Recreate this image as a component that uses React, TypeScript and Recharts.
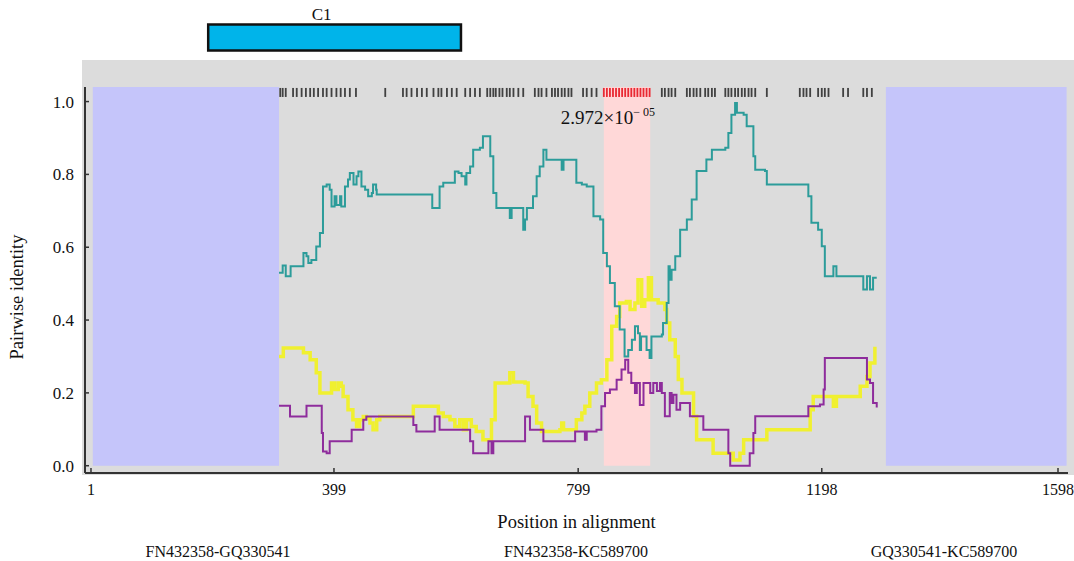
import React from "react";
import {
  ComposedChart,
  Line,
  Scatter,
  XAxis,
  YAxis,
  ReferenceArea,
  Legend,
} from "recharts";

// pairwise identity traces: [position in alignment, identity]
const tealLine: [number, number][] = [
  [309, 0.53], [315, 0.55], [320, 0.52], [328, 0.548], [346, 0.548], [349, 0.584], [354, 0.575],
  [357, 0.557], [362, 0.565], [370, 0.602], [376, 0.639], [381, 0.767], [387, 0.772], [392, 0.758],
  [395, 0.712], [400, 0.74], [403, 0.716], [409, 0.74], [411, 0.712], [417, 0.767], [422, 0.786],
  [425, 0.804], [431, 0.772], [436, 0.795], [439, 0.808], [444, 0.767], [450, 0.758], [455, 0.74],
  [461, 0.749], [463, 0.772], [468, 0.758], [469, 0.745], [559, 0.745], [560, 0.708], [569, 0.708],
  [572, 0.767], [578, 0.777], [591, 0.777], [597, 0.808], [603, 0.804], [608, 0.795], [614, 0.772],
  [616, 0.804], [622, 0.822], [627, 0.868], [638, 0.873], [643, 0.905], [652, 0.905], [655, 0.85],
  [660, 0.749], [665, 0.708], [684, 0.708], [687, 0.68], [690, 0.708], [706, 0.708], [709, 0.648],
  [712, 0.676], [715, 0.708], [725, 0.74], [731, 0.795], [736, 0.822], [742, 0.868], [747, 0.84],
  [769, 0.84], [772, 0.813], [775, 0.84], [788, 0.84], [796, 0.777], [805, 0.772], [813, 0.767],
  [824, 0.685], [835, 0.676], [840, 0.584], [846, 0.548], [851, 0.502], [859, 0.438], [867, 0.374],
  [875, 0.3], [881, 0.318], [887, 0.346], [892, 0.383], [897, 0.364], [900, 0.318], [902, 0.355],
  [911, 0.318], [916, 0.296], [919, 0.355], [936, 0.36], [938, 0.392], [944, 0.447], [947, 0.548],
  [949, 0.511], [952, 0.538], [958, 0.575], [966, 0.648], [977, 0.676], [985, 0.731], [993, 0.809],
  [1009, 0.841], [1018, 0.868], [1040, 0.873], [1045, 0.914], [1050, 0.964], [1056, 0.996],
  [1059, 0.969], [1070, 0.964], [1075, 0.932], [1086, 0.85], [1089, 0.813], [1105, 0.809],
  [1108, 0.772], [1168, 0.772], [1176, 0.74], [1181, 0.667], [1192, 0.648], [1198, 0.603],
  [1203, 0.52], [1211, 0.52], [1217, 0.548], [1222, 0.52], [1244, 0.52], [1266, 0.484],
  [1272, 0.52], [1277, 0.484], [1282, 0.516], [1288, 0.516],
];

const yellowLine: [number, number][] = [
  [309, 0.3], [316, 0.323], [343, 0.323], [349, 0.31], [360, 0.291], [370, 0.255], [376, 0.2],
  [392, 0.2], [395, 0.227], [400, 0.209], [406, 0.227], [411, 0.218], [414, 0.19], [422, 0.154],
  [430, 0.126], [436, 0.108], [441, 0.126], [447, 0.135], [452, 0.131], [458, 0.117], [463, 0.099],
  [469, 0.126], [474, 0.135], [523, 0.135], [529, 0.163], [567, 0.163], [570, 0.145], [578, 0.135],
  [589, 0.126], [597, 0.108], [605, 0.126], [611, 0.099], [616, 0.126], [624, 0.108], [632, 0.094],
  [643, 0.071], [652, 0.071], [657, 0.126], [663, 0.227], [682, 0.227], [687, 0.255], [693, 0.23],
  [712, 0.227], [717, 0.19], [725, 0.163], [731, 0.117], [739, 0.094], [747, 0.094], [769, 0.099],
  [772, 0.117], [775, 0.099], [791, 0.099], [796, 0.126], [805, 0.145], [810, 0.163], [818, 0.2],
  [829, 0.227], [837, 0.236], [846, 0.291], [854, 0.383], [862, 0.41], [867, 0.447], [878, 0.451],
  [884, 0.429], [892, 0.447], [897, 0.511], [903, 0.438], [908, 0.456], [914, 0.516], [919, 0.456],
  [930, 0.447], [941, 0.429], [944, 0.392], [949, 0.346], [958, 0.3], [963, 0.237], [969, 0.2],
  [982, 0.2], [988, 0.136], [993, 0.071], [1015, 0.071], [1020, 0.034], [1042, 0.034],
  [1053, 0.016], [1064, 0.034], [1070, 0.071], [1086, 0.071], [1108, 0.099], [1168, 0.099],
  [1179, 0.154], [1184, 0.19], [1211, 0.19], [1217, 0.163], [1222, 0.19], [1250, 0.19],
  [1261, 0.218], [1272, 0.245], [1277, 0.282], [1285, 0.327],
];

const purpleLine: [number, number][] = [
  [309, 0.165], [324, 0.165], [327, 0.135], [349, 0.135], [354, 0.165], [376, 0.165], [379, 0.09],
  [381, 0.039], [387, 0.034], [392, 0.067], [425, 0.067], [428, 0.099], [441, 0.099], [447, 0.126],
  [452, 0.135], [521, 0.135], [529, 0.112], [534, 0.094], [562, 0.094], [564, 0.135], [570, 0.135],
  [572, 0.099], [611, 0.099], [622, 0.067], [627, 0.034], [649, 0.034], [652, 0.067], [657, 0.034],
  [660, 0.067], [709, 0.067], [712, 0.135], [717, 0.135], [720, 0.099], [736, 0.099], [742, 0.067],
  [785, 0.067], [794, 0.094], [810, 0.071], [813, 0.094], [829, 0.099], [837, 0.163], [843, 0.2],
  [851, 0.209], [862, 0.236], [870, 0.264], [876, 0.291], [881, 0.255], [886, 0.227], [892, 0.2],
  [895, 0.227], [900, 0.167], [906, 0.227], [914, 0.227], [917, 0.2], [922, 0.227], [928, 0.205],
  [933, 0.227], [936, 0.2], [941, 0.136], [947, 0.136], [949, 0.2], [952, 0.172], [955, 0.195],
  [960, 0.154], [966, 0.172], [982, 0.136], [1004, 0.099], [1040, 0.099], [1045, 0.034],
  [1048, 0], [1078, 0], [1080, 0.034], [1086, 0.09], [1089, 0.136], [1168, 0.136], [1176, 0.163],
  [1195, 0.168], [1201, 0.209], [1203, 0.296], [1266, 0.296], [1272, 0.237], [1277, 0.227],
  [1282, 0.172], [1288, 0.16],
];

// informative sites along the top of the plot
const varSites = [
  311, 315, 320, 332, 338, 346, 353, 360, 366, 373, 381, 387, 395, 403, 410, 417, 425, 435, 483,
  512, 518, 526, 535, 543, 551, 562, 570, 575, 584, 592, 600, 614, 622, 630, 638, 650, 655, 660,
  664, 670, 675, 682, 687, 693, 701, 709, 728, 734, 739, 747, 756, 761, 766, 772, 777, 783, 788,
  807, 813, 821, 829, 936, 941, 947, 952, 958, 977, 982, 988, 993, 999, 1007, 1012, 1018, 1023,
  1040, 1045, 1050, 1056, 1061, 1067, 1072, 1078, 1083, 1089, 1108, 1162, 1168, 1173, 1179, 1192,
  1198, 1203, 1209, 1233, 1241, 1266, 1272, 1280,
];
const sigSites = [841, 846, 851, 856, 861, 866, 871, 876, 881, 886, 891, 896, 901, 906, 911, 916];

const xTicks = [1, 399, 799, 1198, 1598];
const yTicks = [0, 0.2, 0.4, 0.6, 0.8, 1.0];
const legendNames = ["FN432358-GQ330541", "FN432358-KC589700", "GQ330541-KC589700"];

// alignment regions
const excluded = [
  [4, 309],
  [1303, 1599],
];
const recombWindow = [841, 917];
const genes = [{ name: "C1", start: 193, end: 607 }];

const toPoints = (arr: [number, number][]) => arr.map(([pos, val]) => ({ pos, val }));
const siteRow = 1.025;

const FONT = "'Liberation Serif', 'Times New Roman', serif";

const XTick = (props: any) => {
  const { x, y, payload } = props;
  return (
    <g>
      <line x1={x} x2={x} y1={y} y2={y - 5} stroke="#333" strokeWidth={1.5} />
      <text x={x} y={y + 22} textAnchor="middle" fontSize={16} fill="#111" fontFamily={FONT}>
        {payload.value}
      </text>
    </g>
  );
};

const YTick = (props: any) => {
  const { x, y, payload } = props;
  return (
    <g>
      <line x1={x} x2={x + 4} y1={y} y2={y} stroke="#333" strokeWidth={1.5} />
      <text x={x - 11} y={y + 6} textAnchor="end" fontSize={17} fill="#111" fontFamily={FONT}>
        {Number(payload.value).toFixed(1)}
      </text>
    </g>
  );
};

const siteMark = (color: string, opacity: number) => (props: any) => {
  const { cx, cy } = props;
  return <rect x={cx - 0.9} y={cy - 4.5} width={1.8} height={9} fill={color} fillOpacity={opacity} />;
};

export default function App() {
  return (
    <div style={{ position: "relative", width: 1074, height: 561, fontFamily: FONT }}>
      <style>{`body { margin: 0; }`}</style>
      {/* grey panel behind the plot */}
      <div
        style={{
          position: "absolute",
          left: 82,
          top: 60,
          width: 992,
          height: 415,
          background: "#dcdcdc",
        }}
      />
      <div style={{ position: "absolute", left: 0, top: 0 }}>
        <ComposedChart width={1074} height={561} margin={{ top: 87, right: 6, bottom: 0, left: 0 }}>
          <XAxis
            type="number"
            dataKey="pos"
            domain={[-8.8, 1601.3]}
            ticks={xTicks}
            allowDataOverflow
            height={88}
            tickSize={0}
            tickMargin={0}
            tick={<XTick />}
            axisLine={{ stroke: "#333", strokeWidth: 2 }}
            tickLine={false}
            label={{
              value: "Position in alignment",
              content: (p: any) => (
                <text
                  x={p.viewBox.x + p.viewBox.width / 2}
                  y={p.viewBox.y + 55}
                  textAnchor="middle"
                  fontSize={18.5}
                  fill="#111"
                  fontFamily={FONT}
                >
                  Position in alignment
                </text>
              ),
            }}
          />
          <YAxis
            type="number"
            dataKey="val"
            domain={[-0.02, 1.04]}
            ticks={yTicks}
            allowDataOverflow
            width={85}
            tickSize={0}
            tickMargin={0}
            tick={<YTick />}
            axisLine={{ stroke: "#333", strokeWidth: 2 }}
            tickLine={false}
            label={{
              value: "Pairwise identity",
              content: (p: any) => {
                const cx = p.viewBox.x + 23;
                const cy = p.viewBox.y + p.viewBox.height / 2 + 17;
                return (
                  <text
                    x={cx}
                    y={cy}
                    transform={`rotate(-90, ${cx}, ${cy})`}
                    textAnchor="middle"
                    fontSize={18.5}
                    fill="#111"
                    fontFamily={FONT}
                  >
                    Pairwise identity
                  </text>
                );
              },
            }}
          />

          {excluded.map(([a, b]) => (
            <ReferenceArea key={a} x1={a} x2={b} y1={0} y2={1.04} fill="#c5c5fa" fillOpacity={1} stroke="none" />
          ))}
          <ReferenceArea
            x1={recombWindow[0]}
            x2={recombWindow[1]}
            y1={0}
            y2={1.04}
            fill="#ffd8d8"
            fillOpacity={1}
            stroke="none"
            label={{
              content: (p: any) => (
                <text x={p.viewBox.x - 43} y={p.viewBox.y + 37} fontSize={19} fill="#111" fontFamily={FONT}>
                  2.972×10
                  <tspan fontSize={12} dy={-8}>
                    − 05
                  </tspan>
                </text>
              ),
            }}
          />
          {genes.map((g) => (
            <ReferenceArea
              key={g.name}
              x1={g.start}
              x2={g.end}
              y1={1.14}
              y2={1.2115}
              ifOverflow="visible"
              fill="#00b4ea"
              fillOpacity={1}
              stroke="#111"
              strokeWidth={2.5}
              label={{
                content: (p: any) => (
                  <text
                    x={p.viewBox.x + p.viewBox.width / 2 - 13}
                    y={p.viewBox.y - 5}
                    textAnchor="middle"
                    fontSize={17}
                    fill="#111"
                    fontFamily={FONT}
                  >
                    {g.name}
                  </text>
                ),
              }}
            />
          ))}

          <Scatter
            data={varSites.map((pos) => ({ pos, val: siteRow }))}
            shape={siteMark("#1a1a1a", 0.8)}
            legendType="none"
            isAnimationActive={false}
          />
          <Scatter
            data={sigSites.map((pos) => ({ pos, val: siteRow }))}
            shape={siteMark("#e8202a", 0.95)}
            legendType="none"
            isAnimationActive={false}
          />

          <Line
            data={toPoints(yellowLine)}
            dataKey="val"
            name={legendNames[1]}
            type="stepAfter"
            stroke="#f0f030"
            strokeWidth={3.5}
            dot={false}
            isAnimationActive={false}
          />
          <Line
            data={toPoints(purpleLine)}
            dataKey="val"
            name={legendNames[2]}
            type="stepAfter"
            stroke="#8e2c9c"
            strokeWidth={2}
            dot={false}
            isAnimationActive={false}
          />
          <Line
            data={toPoints(tealLine)}
            dataKey="val"
            name={legendNames[0]}
            type="stepAfter"
            stroke="#2c9c9a"
            strokeWidth={2}
            dot={false}
            isAnimationActive={false}
          />

          <Legend
            layout="horizontal"
            verticalAlign="middle"
            wrapperStyle={{ top: 540, left: 0, width: 1074, height: 24 }}
            content={() => (
              <div style={{ position: "relative", width: 1074, height: 24, fontFamily: FONT, fontSize: 16, color: "#111" }}>
                {legendNames.map((n, i) => (
                  <span
                    key={n}
                    style={{
                      position: "absolute",
                      left: [218, 576, 944][i],
                      top: 0,
                      lineHeight: "24px",
                      transform: "translateX(-50%)",
                      whiteSpace: "nowrap",
                    }}
                  >
                    {n}
                  </span>
                ))}
              </div>
            )}
          />
        </ComposedChart>
      </div>
    </div>
  );
}
